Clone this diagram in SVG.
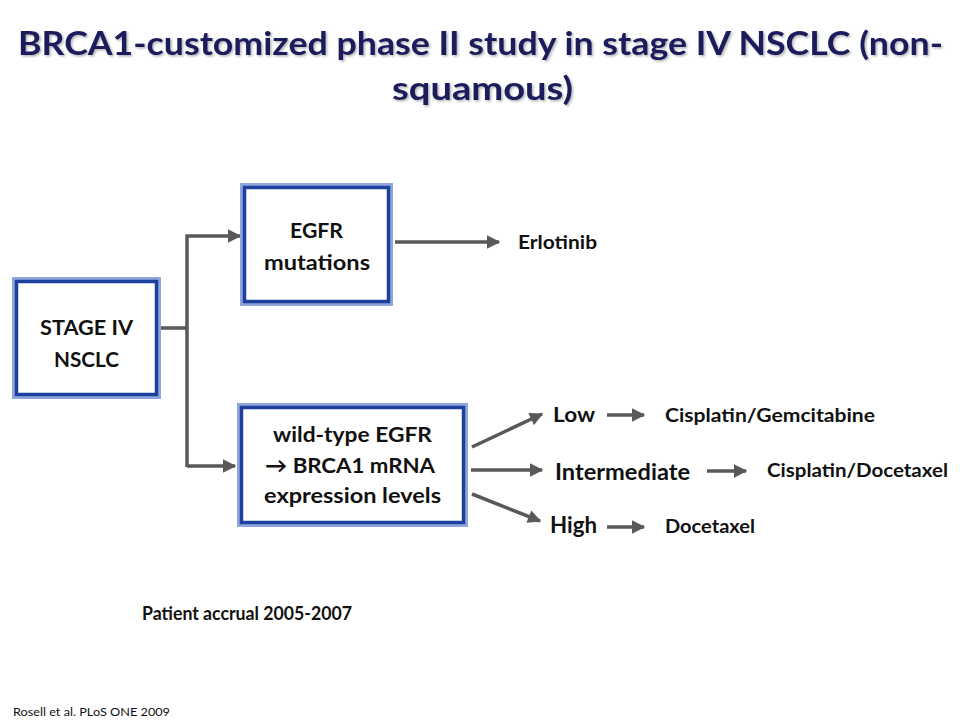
<svg xmlns="http://www.w3.org/2000/svg" width="960" height="720" viewBox="0 0 960 720">
<defs>
<marker id="ah" viewBox="0 0 10 10" refX="9" refY="5" markerWidth="4.2" markerHeight="3.8" orient="auto" markerUnits="strokeWidth">
<path d="M0,0 L10,5 L0,10 z" fill="#595959"/>
</marker>
<filter id="shadow" x="-5%" y="-20%" width="110%" height="150%">
<feDropShadow dx="1.5" dy="1.5" stdDeviation="0.8" flood-color="#000" flood-opacity="0.3"/>
</filter>
<style>
.t{font-family:Lato,"Open Sans","Liberation Sans",sans-serif;font-weight:bold;fill:#111}
.title{font-family:Lato,"Open Sans","Liberation Sans",sans-serif;font-weight:bold;font-size:33px;fill:#1a1f5c}
.outer{fill:#fff;stroke:#8fa6dc;stroke-width:3}
.inner{fill:none;stroke:#1d3f9e;stroke-width:3.5}
.c{fill:none;stroke:#595959;stroke-width:3.5}
</style>
</defs>
<rect width="960" height="720" fill="#fff"/>
<g id="title" filter="url(#shadow)">
<text class="title" x="18" y="55" textLength="925" lengthAdjust="spacingAndGlyphs">BRCA1-customized phase II study in stage IV NSCLC (non-</text>
<text class="title" x="392" y="100" textLength="181" lengthAdjust="spacingAndGlyphs">squamous)</text>
</g>
<g id="connectors">
<polyline class="c" points="161,328 187,328"/>
<polyline class="c" points="187,467 187,236 240,236" marker-end="url(#ah)"/>
<polyline class="c" points="187,466 235,466" marker-end="url(#ah)"/>
<line class="c" x1="395" y1="242" x2="499" y2="242" marker-end="url(#ah)"/>
<line class="c" x1="472" y1="447" x2="542" y2="414" marker-end="url(#ah)"/>
<line class="c" x1="471" y1="470" x2="542" y2="470" marker-end="url(#ah)"/>
<line class="c" x1="472" y1="494" x2="540" y2="521" marker-end="url(#ah)"/>
<line class="c" x1="607" y1="415" x2="644" y2="415" marker-end="url(#ah)"/>
<line class="c" x1="707" y1="471" x2="746" y2="471" marker-end="url(#ah)"/>
<line class="c" x1="607" y1="527" x2="644" y2="527" marker-end="url(#ah)"/>
</g>
<g id="stage">
<rect class="outer" x="13.5" y="278.5" width="146" height="119"/>
<rect class="inner" x="16.5" y="281.5" width="140" height="113"/>
<text class="t" font-size="21" x="40" y="335" textLength="93" lengthAdjust="spacingAndGlyphs">STAGE IV</text>
<text class="t" font-size="21" x="54" y="367" textLength="65" lengthAdjust="spacingAndGlyphs">NSCLC</text>
</g>
<g id="egfr">
<rect class="outer" x="241.5" y="184.5" width="150" height="120"/>
<rect class="inner" x="244.5" y="187.5" width="144" height="114"/>
<text class="t" font-size="21" x="290" y="238" textLength="53" lengthAdjust="spacingAndGlyphs">EGFR</text>
<text class="t" font-size="21" x="264" y="270" textLength="106" lengthAdjust="spacingAndGlyphs">mutations</text>
</g>
<g id="wild">
<rect class="outer" x="238.5" y="404.5" width="228" height="121"/>
<rect class="inner" x="241.5" y="407.5" width="222" height="115"/>
<text class="t" font-size="21" x="273" y="442" textLength="159" lengthAdjust="spacingAndGlyphs">wild-type EGFR</text>
<text class="t" font-size="21" x="265" y="473" textLength="170" lengthAdjust="spacingAndGlyphs">→ BRCA1 mRNA</text>
<text class="t" font-size="21" x="264" y="503" textLength="177" lengthAdjust="spacingAndGlyphs">expression levels</text>
</g>
<g id="erlotinib"><text class="t" font-size="18" x="518" y="249" textLength="79" lengthAdjust="spacingAndGlyphs">Erlotinib</text></g>
<g id="low"><text class="t" font-size="21" x="553" y="422" textLength="42" lengthAdjust="spacingAndGlyphs">Low</text></g>
<g id="cisgem"><text class="t" font-size="19" x="665" y="422" textLength="210" lengthAdjust="spacingAndGlyphs">Cisplatin/Gemcitabine</text></g>
<g id="inter"><text class="t" font-size="22" x="555" y="480" textLength="135" lengthAdjust="spacingAndGlyphs">Intermediate</text></g>
<g id="cisdoc"><text class="t" font-size="19" x="767" y="477" textLength="181" lengthAdjust="spacingAndGlyphs">Cisplatin/Docetaxel</text></g>
<g id="high"><text class="t" font-size="22" x="550" y="533" textLength="47" lengthAdjust="spacingAndGlyphs">High</text></g>
<g id="doc"><text class="t" font-size="19" x="665" y="533" textLength="90" lengthAdjust="spacingAndGlyphs">Docetaxel</text></g>
<g id="notes">
<text class="t" font-size="12" x="142" y="620" textLength="210" lengthAdjust="spacingAndGlyphs" style="font-size:18px">Patient accrual 2005-2007</text>
<text class="t" font-size="12" x="13" y="716" textLength="157" lengthAdjust="spacingAndGlyphs" style="font-weight:normal">Rosell et al. PLoS ONE 2009</text>
</g>
</svg>
